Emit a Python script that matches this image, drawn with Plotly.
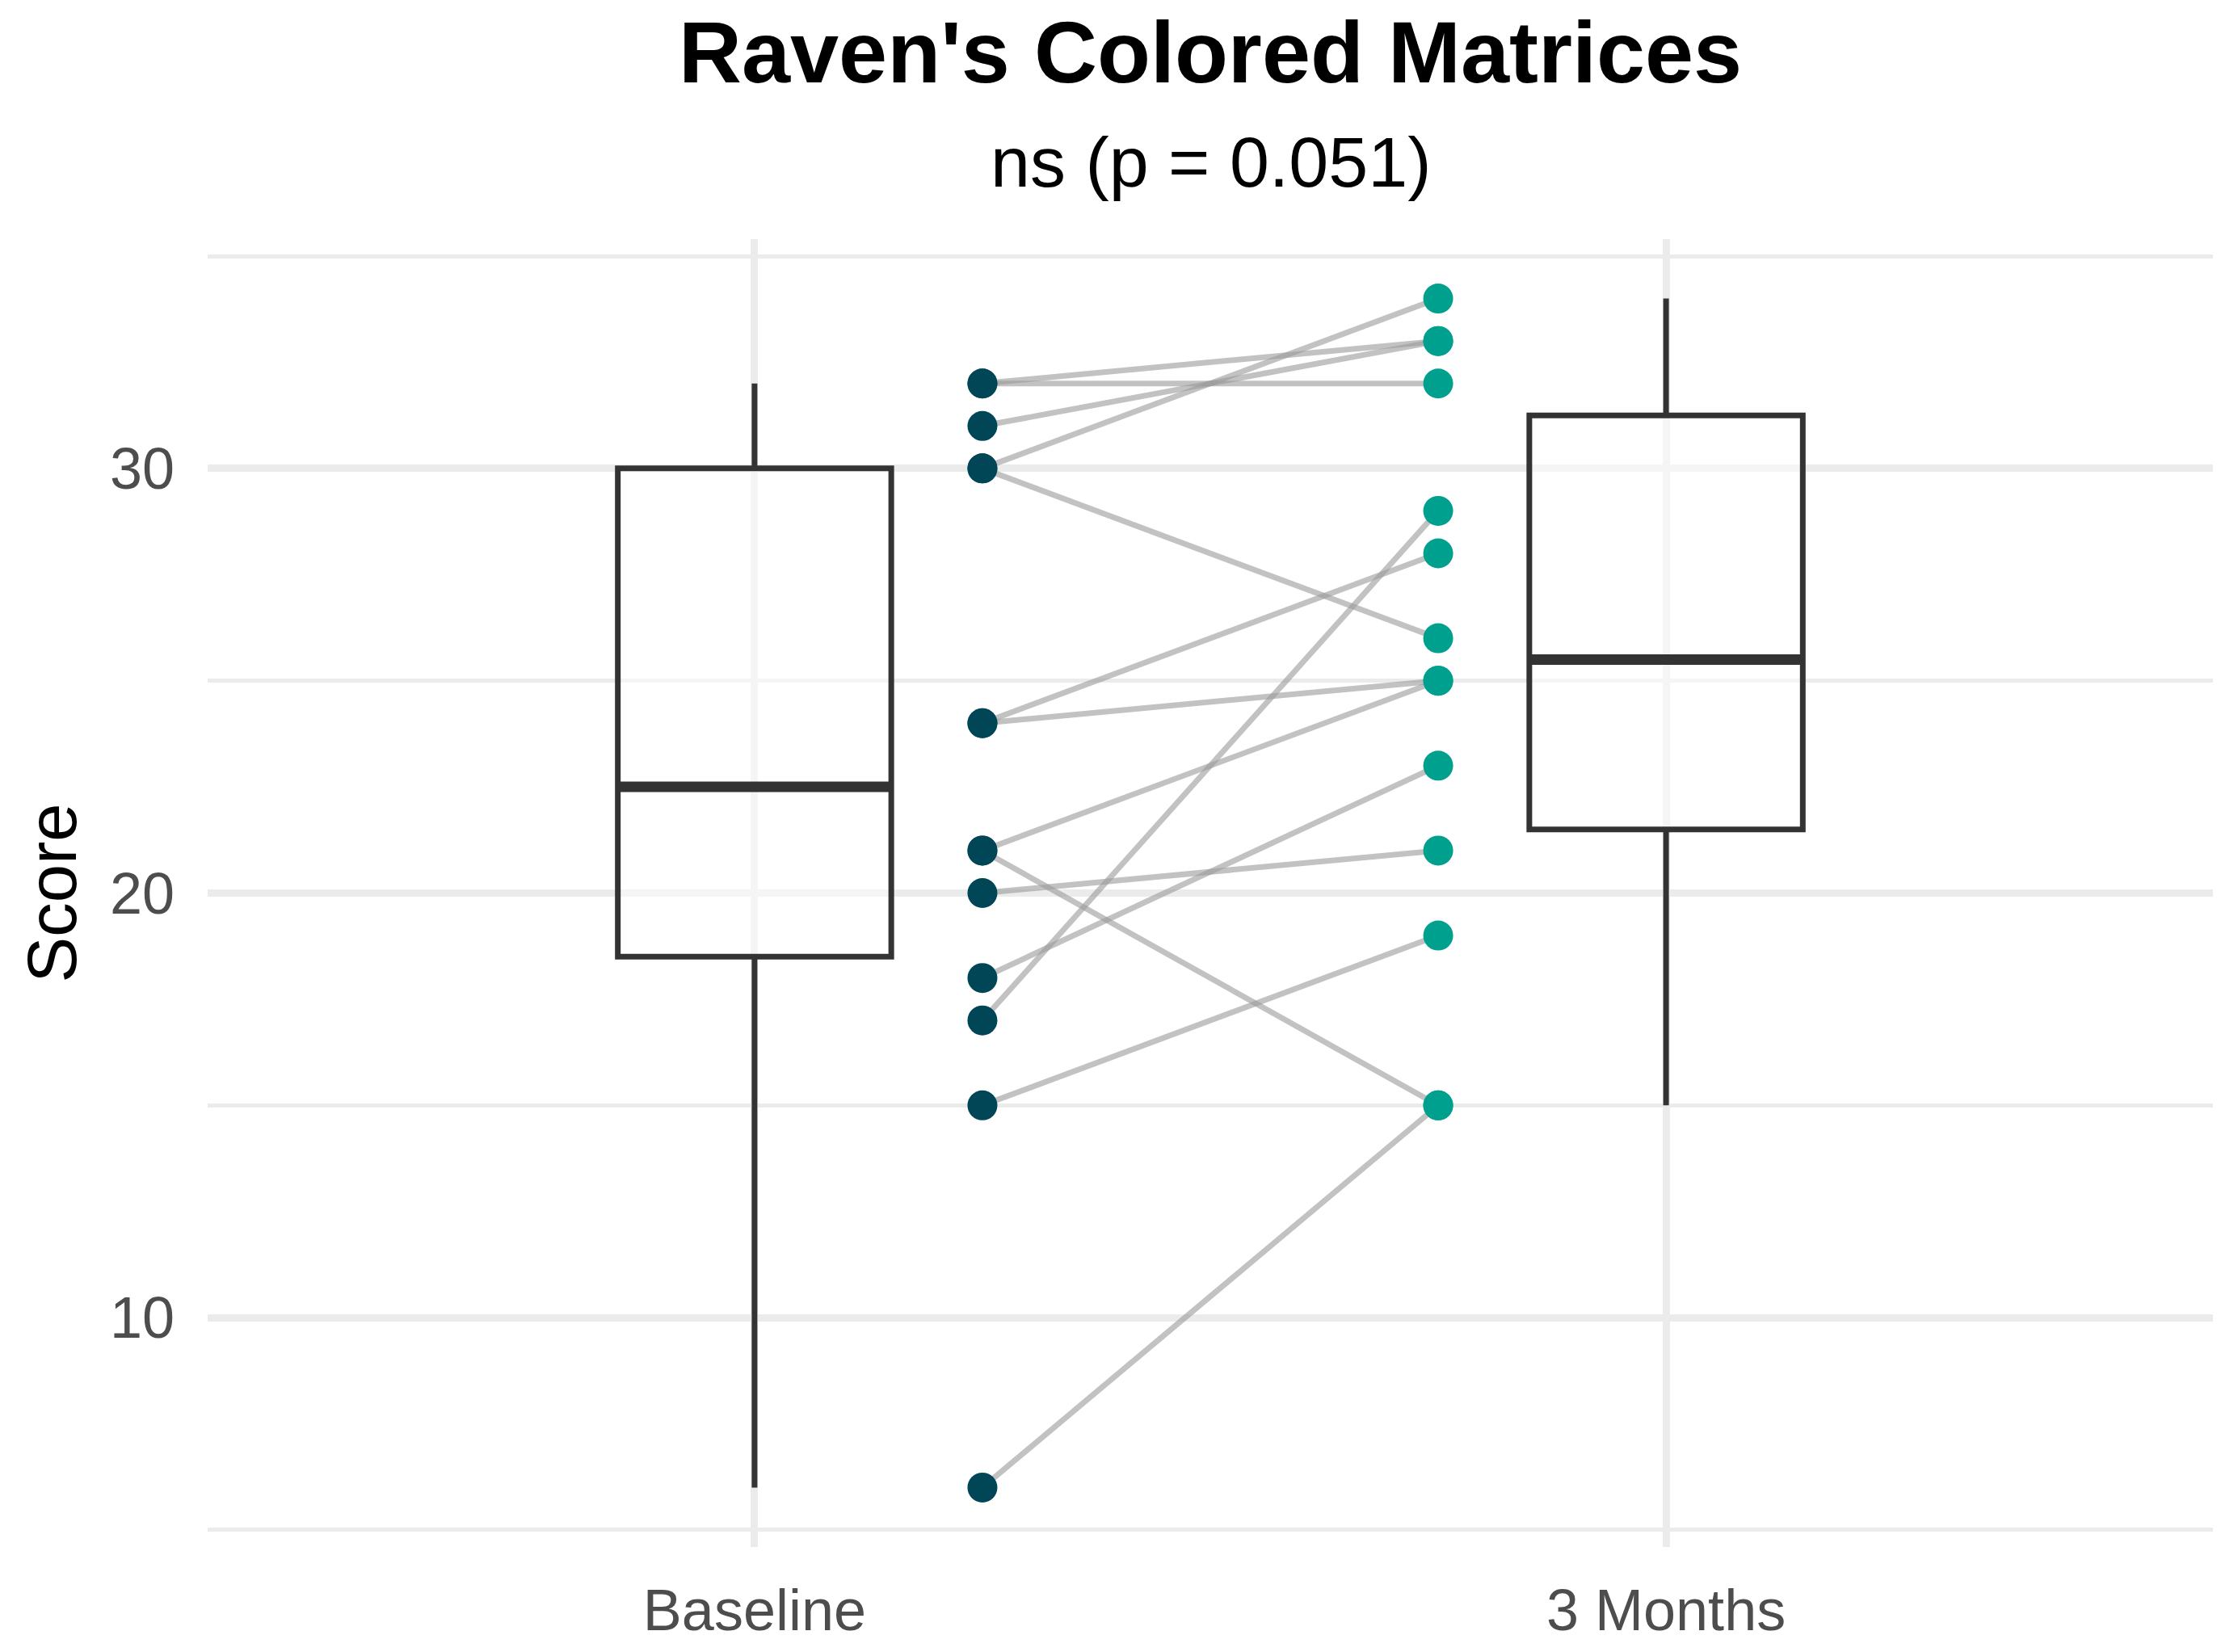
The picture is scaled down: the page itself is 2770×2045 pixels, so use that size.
import numpy as np
import plotly.graph_objects as go

# paired scores, one entry per participant (baseline -> 3 months)
groups = ["Baseline", "3 Months"]
baseline = [32, 32, 31, 30, 30, 24, 24, 21, 21, 20, 18, 17, 15, 6]
months_3 = [33, 32, 33, 34, 26, 28, 25, 25, 15, 21, 23, 29, 19, 15]

title_text = "Raven's Colored Matrices"
subtitle_text = "ns (p = 0.051)"
y_title = "Score"

FONT = "Liberation Sans, Arial, sans-serif"
DARK = "#333333"
GRID = "#ebebeb"
COL_BASE = "#004657"
COL_3M = "#00a08f"

W, H = 2770, 2045
M = dict(l=257, r=31, t=296, b=123)
plot_h = H - M["t"] - M["b"]
plot_w = W - M["l"] - M["r"]

box_w = 0.3
nudge = 0.25


def box_stats(vals):
    # same stats as ggplot's stat_boxplot (type 7 quantiles, 1.5 IQR whiskers)
    v = np.asarray(vals, dtype=float)
    q1, med, q3 = np.percentile(v, [25, 50, 75])
    iqr = q3 - q1
    lo = v[v >= q1 - 1.5 * iqr].min()
    hi = v[v <= q3 + 1.5 * iqr].max()
    return q1, med, q3, lo, hi


fig = go.Figure()

# boxes
for i, vals in enumerate([baseline, months_3]):
    xpos = i + 1
    q1, med, q3, lo, hi = box_stats(vals)
    fig.add_trace(
        go.Box(
            x=[xpos],
            q1=[q1],
            median=[med],
            q3=[q3],
            lowerfence=[lo],
            upperfence=[hi],
            width=box_w,
            boxpoints=False,
            whiskerwidth=0,
            fillcolor="rgba(255,255,255,0.5)",
            line=dict(color=DARK, width=7),
            hoverinfo="skip",
        )
    )
    # thicker median bar like ggplot
    fig.add_trace(
        go.Scatter(
            x=[xpos - box_w / 2, xpos + box_w / 2],
            y=[med, med],
            mode="lines",
            line=dict(color=DARK, width=13),
            hoverinfo="skip",
        )
    )

# paired lines, one trace each so overlaps get darker
for b, m in zip(baseline, months_3):
    fig.add_trace(
        go.Scatter(
            x=[1 + nudge, 2 - nudge],
            y=[b, m],
            mode="lines",
            line=dict(color="rgba(153,153,153,0.6)", width=7),
            hoverinfo="skip",
        )
    )

fig.add_trace(
    go.Scatter(
        x=[1 + nudge] * len(baseline),
        y=baseline,
        mode="markers",
        marker=dict(size=37, color=COL_BASE, line=dict(width=0)),
    )
)
fig.add_trace(
    go.Scatter(
        x=[2 - nudge] * len(months_3),
        y=months_3,
        mode="markers",
        marker=dict(size=37, color=COL_3M, line=dict(width=0)),
    )
)


def py(px_from_top):
    # pixel row -> paper y
    return 1 + (M["t"] - px_from_top) / plot_h


fig.update_layout(
    width=W,
    height=H,
    margin=M,
    autosize=False,
    paper_bgcolor="white",
    plot_bgcolor="white",
    showlegend=False,
    font=dict(family=FONT, color="black"),
    annotations=[
        dict(
            text="<b>" + title_text + "</b>",
            xref="paper", yref="paper", x=0.5, y=py(63),
            xanchor="center", yanchor="middle", showarrow=False,
            font=dict(size=108, color="black", family=FONT),
        ),
        dict(
            text=subtitle_text,
            xref="paper", yref="paper", x=0.5, y=py(200),
            xanchor="center", yanchor="middle", showarrow=False,
            font=dict(size=88, color="black", family=FONT),
        ),
        dict(
            text=y_title,
            xref="paper", yref="paper", x=(64 - M["l"]) / plot_w, y=0.5,
            xanchor="center", yanchor="middle", showarrow=False,
            textangle=-90,
            font=dict(size=85, color="black", family=FONT),
        ),
    ],
)

fig.update_xaxes(
    range=[0.4, 2.6],
    tickvals=[1, 2],
    ticktext=groups,
    showgrid=True,
    gridcolor=GRID,
    gridwidth=9,
    zeroline=False,
    showline=False,
    ticks="",
    ticklabelstandoff=30,
    tickfont=dict(size=72, color="#4d4d4d", family=FONT),
)
fig.update_yaxes(
    range=[4.6, 35.4],
    tickvals=[10, 20, 30],
    showgrid=True,
    gridcolor=GRID,
    gridwidth=9,
    minor=dict(tickvals=[5, 15, 25, 35], showgrid=True, gridcolor=GRID, gridwidth=4.5),
    zeroline=False,
    showline=False,
    ticks="",
    ticklabelstandoff=40,
    tickfont=dict(size=72, color="#4d4d4d", family=FONT),
)

fig.write_html(
    "out.html",
    config={"displayModeBar": False},
    post_script="document.body.style.margin='0';document.body.style.overflow='hidden';",
)
